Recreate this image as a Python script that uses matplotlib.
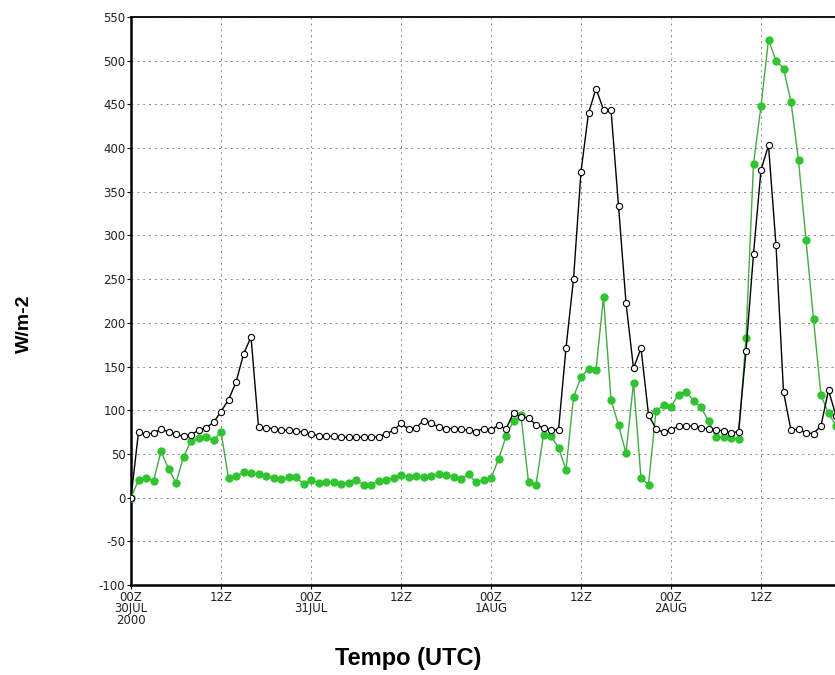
import matplotlib
matplotlib.use("Agg")
import matplotlib.pyplot as plt

# hourly values starting 00Z 30JUL2000
hours = list(range(95))

black = [0, 75, 72.5, 74, 78, 75.5, 72.5, 70, 72, 77,
         80, 86, 98.5, 112, 132, 164, 184, 81, 80, 79,
         77, 77, 76, 75, 72.5, 71, 70, 70, 69, 69,
         69, 69, 69, 69.5, 73, 77, 85, 78.5, 80, 88,
         85, 81, 79, 79, 78.5, 77, 75.5, 79, 77, 83,
         78.5, 97, 92, 91.5, 83, 80, 77.5, 77.5, 171, 250,
         373, 440, 468, 444, 444, 334, 223, 148, 171, 95,
         78.5, 74.7, 77.8, 81.6, 82.3, 81.6, 80, 78.6, 77.8, 76.3,
         74, 75.6, 168, 279, 375, 403, 289, 121, 77, 78.6,
         74, 73.3, 82.3, 123, 93.6]

green = [0, 20, 23, 19, 53, 33, 17, 46.5, 65, 68,
         69, 65.6, 75.6, 22, 24.5, 29, 28, 27, 24.5, 23,
         21, 23.5, 23.5, 15.5, 20.6, 17, 17.5, 17.5, 16, 17,
         20, 15, 15, 19, 20.6, 23, 26, 23.7, 25, 23.7,
         25, 26.7, 26, 23.7, 21, 26.7, 17.5, 20, 22, 44,
         70, 88, 94, 17.7, 14.6, 72, 70, 57, 32, 115,
         138, 147.5, 146, 229.6, 112, 83, 51, 131.5, 22, 15,
         99, 106, 104, 118, 121.4, 111, 103.4, 87.6, 69.5, 68.8,
         68, 67.3, 183, 382, 448, 524, 500, 491, 453, 386,
         295, 204, 117, 96.6, 82.3]

xticks = [0, 12, 24, 36, 48, 60, 72, 84]
xticklabels = ["00Z\n30JUL\n2000", "12Z", "00Z\n31JUL", "12Z",
               "00Z\n1AUG", "12Z", "00Z\n2AUG", "12Z"]
yticks = list(range(-100, 551, 50))

fig = plt.figure(figsize=(8.35, 6.75), dpi=100)
ax = fig.add_axes([131 / 835, 90 / 675, 720 / 835, 568 / 675])

ax.plot(hours, green, color="#46a846", linewidth=1.0, marker="o",
        markersize=5, markerfacecolor="#30c430", markeredgecolor="#30c430",
        zorder=3)
ax.plot(hours, black, color="black", linewidth=1.0, marker="o",
        markersize=4.5, markerfacecolor="white", markeredgecolor="black",
        markeredgewidth=0.8, zorder=4)

ax.set_xlim(0, 96)
ax.set_ylim(-100, 550)
ax.set_xticks(xticks)
ax.set_xticklabels(xticklabels, fontsize=8.5, linespacing=0.85, color="#222222")
ax.set_yticks(yticks)
ax.set_yticklabels([str(v) for v in yticks], fontsize=8.5, color="#222222")
ax.tick_params(axis="both", direction="out", length=3, width=0.8, pad=1)

ax.grid(True, color="#888888", linestyle=(0, (2, 4)), linewidth=0.7)

for side in ["left", "bottom"]:
    ax.spines[side].set_linewidth(1.8)
ax.spines["top"].set_linewidth(1.3)

fig.text(24 / 835, 1 - 324 / 675, "W/m-2", rotation=90, ha="center", va="center",
         fontsize=14, fontweight="bold", family="Liberation Sans")
fig.text(408 / 835, 1 - 659 / 675, "Tempo (UTC)", ha="center", va="center",
         fontsize=17, fontweight="bold", family="Liberation Sans")

fig.savefig("out.png", dpi=100)
plt.close()
